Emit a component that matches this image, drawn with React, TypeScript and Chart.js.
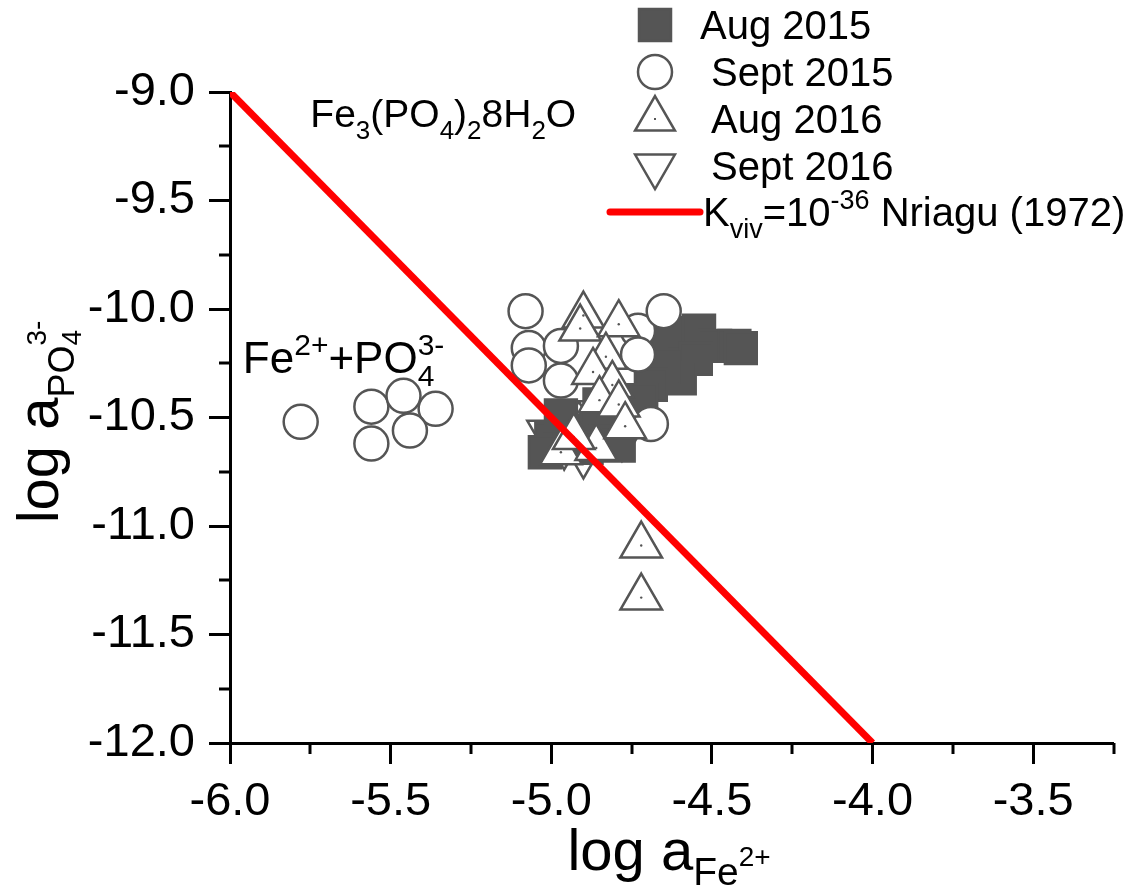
import React, { useEffect, useRef } from 'react';
import { Chart, registerables } from 'chart.js';

Chart.register(...registerables);

const FONT = "'Liberation Sans', Arial, Helvetica, sans-serif";

// ---------- data ----------
const seriesNames = ['Aug 2015', ' Sept 2015', ' Aug 2016', ' Sept 2016'];

const aug2015X = [-4.64, -4.59, -4.54, -4.49, -4.43, -4.41, -4.55, -4.6, -4.65, -4.69, -5.0, -4.95, -4.91, -4.86, -4.82, -4.77, -4.72, -4.89, -4.94, -4.83, -4.97, -4.79, -5.02, -4.85];
const aug2015Y = [-10.13, -10.11, -10.1, -10.17, -10.17, -10.18, -10.23, -10.32, -10.27, -10.35, -10.6, -10.56, -10.59, -10.55, -10.51, -10.47, -10.42, -10.64, -10.64, -10.6, -10.49, -10.63, -10.66, -10.44];

const sept2015X = [-5.78, -5.56, -5.46, -5.36, -5.44, -5.56, -5.08, -5.07, -5.07, -4.97, -4.97, -4.73, -4.73, -4.65, -4.69];
const sept2015Y = [-10.52, -10.45, -10.4, -10.46, -10.56, -10.62, -10.01, -10.18, -10.26, -10.17, -10.33, -10.1, -10.21, -10.01, -10.53];

const aug2016X = [-4.9, -4.91, -4.79, -4.83, -4.87, -4.81, -4.85, -4.79, -4.97, -4.86, -4.93, -4.77, -4.72, -4.72];
const aug2016Y = [-10.03, -10.09, -10.07, -10.22, -10.29, -10.35, -10.42, -10.44, -10.66, -10.64, -10.59, -10.54, -11.09, -11.33];

const sept2016X = [-5.01, -4.96, -4.92, -4.87, -4.83, -4.78, -4.74, -4.9, -4.94, -4.85];
const sept2016Y = [-10.57, -10.63, -10.54, -10.6, -10.55, -10.59, -10.5, -10.67, -10.49, -10.48];

const kvivX = [-6.0, -4.0];
const kvivY = [-9.0, -12.0];

const xMajorTicks = [-6.0, -5.5, -5.0, -4.5, -4.0, -3.5];
const xMinorTicks = [-5.75, -5.25, -4.75, -4.25, -3.75, -3.25];
const yMajorTicks = [-12.0, -11.5, -11.0, -10.5, -10.0, -9.5, -9.0];
const yMinorTicks = [-11.75, -11.25, -10.75, -10.25, -9.75, -9.25];

const zip = (xs: number[], ys: number[]) => xs.map((x, i) => ({ x, y: ys[i] }));

// ---------- rich text helper ----------
type Seg = { t: string; s?: number; dy?: number; stack?: boolean };

function richWidth(ctx: CanvasRenderingContext2D, segs: Seg[], size: number) {
  let w = 0;
  let pending = 0;
  for (const sg of segs) {
    ctx.font = `${Math.round(size * (sg.s ?? 1))}px ${FONT}`;
    const m = ctx.measureText(sg.t).width;
    if (sg.stack) {
      pending = Math.max(pending, m);
    } else {
      w += Math.max(m, pending);
      pending = 0;
    }
  }
  return w + pending;
}

function drawRich(ctx: CanvasRenderingContext2D, segs: Seg[], x: number, y: number, size: number, align: 'left' | 'center' = 'left') {
  let cx = x;
  if (align === 'center') cx = x - richWidth(ctx, segs, size) / 2;
  ctx.textAlign = 'left';
  ctx.textBaseline = 'alphabetic';
  let pending = 0;
  for (const sg of segs) {
    ctx.font = `${Math.round(size * (sg.s ?? 1))}px ${FONT}`;
    ctx.fillText(sg.t, cx, y + (sg.dy ?? 0) * size);
    const m = ctx.measureText(sg.t).width;
    if (sg.stack) {
      pending = Math.max(pending, m);
    } else {
      cx += Math.max(m, pending);
      pending = 0;
    }
  }
}

// ---------- marker drawing for legend ----------
const MARK = '#555555';

function drawMarker(ctx: CanvasRenderingContext2D, kind: string, x: number, y: number) {
  ctx.save();
  ctx.lineWidth = 2.5;
  ctx.strokeStyle = MARK;
  ctx.fillStyle = '#ffffff';
  ctx.beginPath();
  if (kind === 'rect') {
    ctx.fillStyle = MARK;
    ctx.rect(x - 16, y - 16, 32, 32);
    ctx.fill();
    ctx.stroke();
  } else if (kind === 'circle') {
    ctx.arc(x, y, 17, 0, Math.PI * 2);
    ctx.fill();
    ctx.stroke();
  } else {
    const r = 23;
    const sgn = kind === 'up' ? 1 : -1;
    ctx.moveTo(x, y - sgn * r);
    ctx.lineTo(x + r * Math.sin(Math.PI / 3), y + sgn * r / 2);
    ctx.lineTo(x - r * Math.sin(Math.PI / 3), y + sgn * r / 2);
    ctx.closePath();
    ctx.fill();
    ctx.stroke();
    if (kind === 'up') {
      ctx.fillStyle = MARK;
      ctx.fillRect(x - 1, y - 1, 2, 2);
    }
  }
  ctx.restore();
}

const overlayPlugin = {
  id: 'overlay',
  afterDraw(chart: any) {
    const ctx: CanvasRenderingContext2D = chart.ctx;
    const xs = chart.scales.x;
    const ys = chart.scales.y;
    ctx.save();
    // minor ticks
    ctx.strokeStyle = '#000';
    ctx.lineWidth = 3;
    for (const v of xMinorTicks) {
      const px = Math.round(xs.getPixelForValue(v));
      ctx.beginPath();
      ctx.moveTo(px, ys.bottom);
      ctx.lineTo(px, ys.bottom + 11);
      ctx.stroke();
    }
    for (const v of yMinorTicks) {
      const py = Math.round(ys.getPixelForValue(v));
      ctx.beginPath();
      ctx.moveTo(xs.left, py);
      ctx.lineTo(xs.left - 11, py);
      ctx.stroke();
    }

    ctx.fillStyle = '#000';
    // x title
    drawRich(ctx, [
      { t: 'log a' },
      { t: 'Fe', s: 0.67, dy: 0.26 },
      { t: '2+', s: 0.48, dy: -0.07 },
    ], 669, 870, 58, 'center');

    // y title (rotated)
    ctx.save();
    ctx.translate(58, 422);
    ctx.rotate(-Math.PI / 2);
    drawRich(ctx, [
      { t: 'log a' },
      { t: 'PO', s: 0.62, dy: 0.28 },
      { t: '4', s: 0.48, dy: 0.4, stack: true },
      { t: '3-', s: 0.48, dy: -0.2 },
    ], 0, 0, 58, 'center');
    ctx.restore();

    // annotations
    drawRich(ctx, [
      { t: 'Fe' }, { t: '3', s: 0.66, dy: 0.3 },
      { t: '(PO' }, { t: '4', s: 0.66, dy: 0.3 },
      { t: ')' }, { t: '2', s: 0.66, dy: 0.3 },
      { t: '8H' }, { t: '2', s: 0.66, dy: 0.3 },
      { t: 'O' },
    ], xs.getPixelForValue(-5.75), ys.getPixelForValue(-9.162), 39);

    drawRich(ctx, [
      { t: 'Fe' }, { t: '2+', s: 0.68, dy: -0.42 },
      { t: '+PO' },
      { t: '4', s: 0.68, dy: 0.3, stack: true },
      { t: '3-', s: 0.68, dy: -0.42 },
    ], xs.getPixelForValue(-5.96), ys.getPixelForValue(-10.295), 44);

    // legend
    const lx = 655;
    const rows = [25, 72, 119, 166, 213];
    const kinds = ['rect', 'circle', 'up', 'down'];
    for (let i = 0; i < 4; i++) {
      drawMarker(ctx, kinds[i], lx, rows[i]);
      ctx.fillStyle = '#000';
      drawRich(ctx, [{ t: seriesNames[i] }], 700, rows[i] + 14, 40);
    }
    ctx.strokeStyle = '#ff0000';
    ctx.lineWidth = 7;
    ctx.lineCap = 'round';
    ctx.beginPath();
    ctx.moveTo(610, rows[4] - 1);
    ctx.lineTo(700, rows[4] - 1);
    ctx.stroke();
    ctx.fillStyle = '#000';
    drawRich(ctx, [
      { t: 'K' }, { t: 'viv', s: 0.68, dy: 0.3 },
      { t: '=10' }, { t: '-36', s: 0.68, dy: -0.42 },
      { t: ' Nriagu (1972)' },
    ], 703, rows[4] + 13, 40);
    ctx.restore();
  },
};

export default function App() {
  const ref = useRef<HTMLCanvasElement | null>(null);

  useEffect(() => {
    if (!ref.current) return;
    const markerBase = {
      showLine: false,
      pointBorderColor: MARK,
      pointBorderWidth: 2.5,
      pointHoverRadius: 0,
    };
    const chart = new Chart(ref.current, {
      type: 'scatter',
      data: {
        datasets: [
          {
            label: 'Kviv',
            data: zip(kvivX, kvivY),
            showLine: true,
            borderColor: '#ff0000',
            borderWidth: 7,
            pointRadius: 0,
            order: 0,
          } as any,
          {
            label: 'dots',
            data: zip(aug2016X, aug2016Y),
            showLine: false,
            pointStyle: 'circle',
            pointRadius: 1.2,
            pointBorderWidth: 0,
            pointBackgroundColor: MARK,
            order: 1,
          },
          {
            ...markerBase,
            label: seriesNames[2],
            data: zip(aug2016X, aug2016Y),
            pointStyle: 'triangle',
            pointRadius: 24,
            pointBackgroundColor: '#ffffff',
            order: 2,
          },
          {
            ...markerBase,
            label: seriesNames[1],
            data: zip(sept2015X, sept2015Y),
            pointStyle: 'circle',
            pointRadius: 17,
            pointBackgroundColor: '#ffffff',
            order: 3,
          },
          {
            ...markerBase,
            label: seriesNames[0],
            data: zip(aug2015X, aug2015Y),
            pointStyle: 'rect',
            pointRadius: 22.5,
            pointBackgroundColor: MARK,
            order: 4,
          },
          {
            ...markerBase,
            label: seriesNames[3],
            data: zip(sept2016X, sept2016Y),
            pointStyle: 'triangle',
            pointRotation: 180,
            pointRadius: 24,
            pointBackgroundColor: '#ffffff',
            order: 5,
          },
        ],
      },
      options: {
        animation: false,
        responsive: false,
        devicePixelRatio: 1,
        events: [],
        layout: { padding: { top: 92, right: 26, left: 0, bottom: 0 } },
        plugins: {
          legend: { display: false },
          tooltip: { enabled: false },
          title: { display: false },
        },
        scales: {
          x: {
            type: 'linear',
            min: -6,
            max: -3.25,
            afterBuildTicks: (s: any) => { s.ticks = xMajorTicks.map((v) => ({ value: v })); },
            afterFit: (s: any) => { s.height = 145; },
            border: { display: true, color: '#000', width: 3 },
            grid: { display: true, drawOnChartArea: false, drawTicks: true, tickLength: 21, tickWidth: 3, tickColor: '#000' },
            ticks: {
              color: '#000',
              padding: 10,
              maxRotation: 0,
              autoSkip: false,
              font: { family: FONT, size: 47 },
              callback: (v: any) => Number(v).toFixed(1),
            },
          },
          y: {
            type: 'linear',
            min: -12,
            max: -9,
            afterBuildTicks: (s: any) => { s.ticks = yMajorTicks.map((v) => ({ value: v })); },
            afterFit: (s: any) => { s.width = 230; },
            border: { display: true, color: '#000', width: 3 },
            grid: { display: true, drawOnChartArea: false, drawTicks: true, tickLength: 21, tickWidth: 3, tickColor: '#000' },
            ticks: {
              color: '#000',
              padding: 14,
              autoSkip: false,
              font: { family: FONT, size: 47 },
              callback: (v: any) => Number(v).toFixed(1),
            },
          },
        },
      },
      plugins: [overlayPlugin],
    } as any);
    return () => chart.destroy();
  }, []);

  return (
    <div style={{ position: 'fixed', left: 0, top: 0, width: 1140, height: 888, background: '#fff' }}>
      <canvas ref={ref} width={1140} height={888} style={{ width: 1140, height: 888 }} />
    </div>
  );
}
